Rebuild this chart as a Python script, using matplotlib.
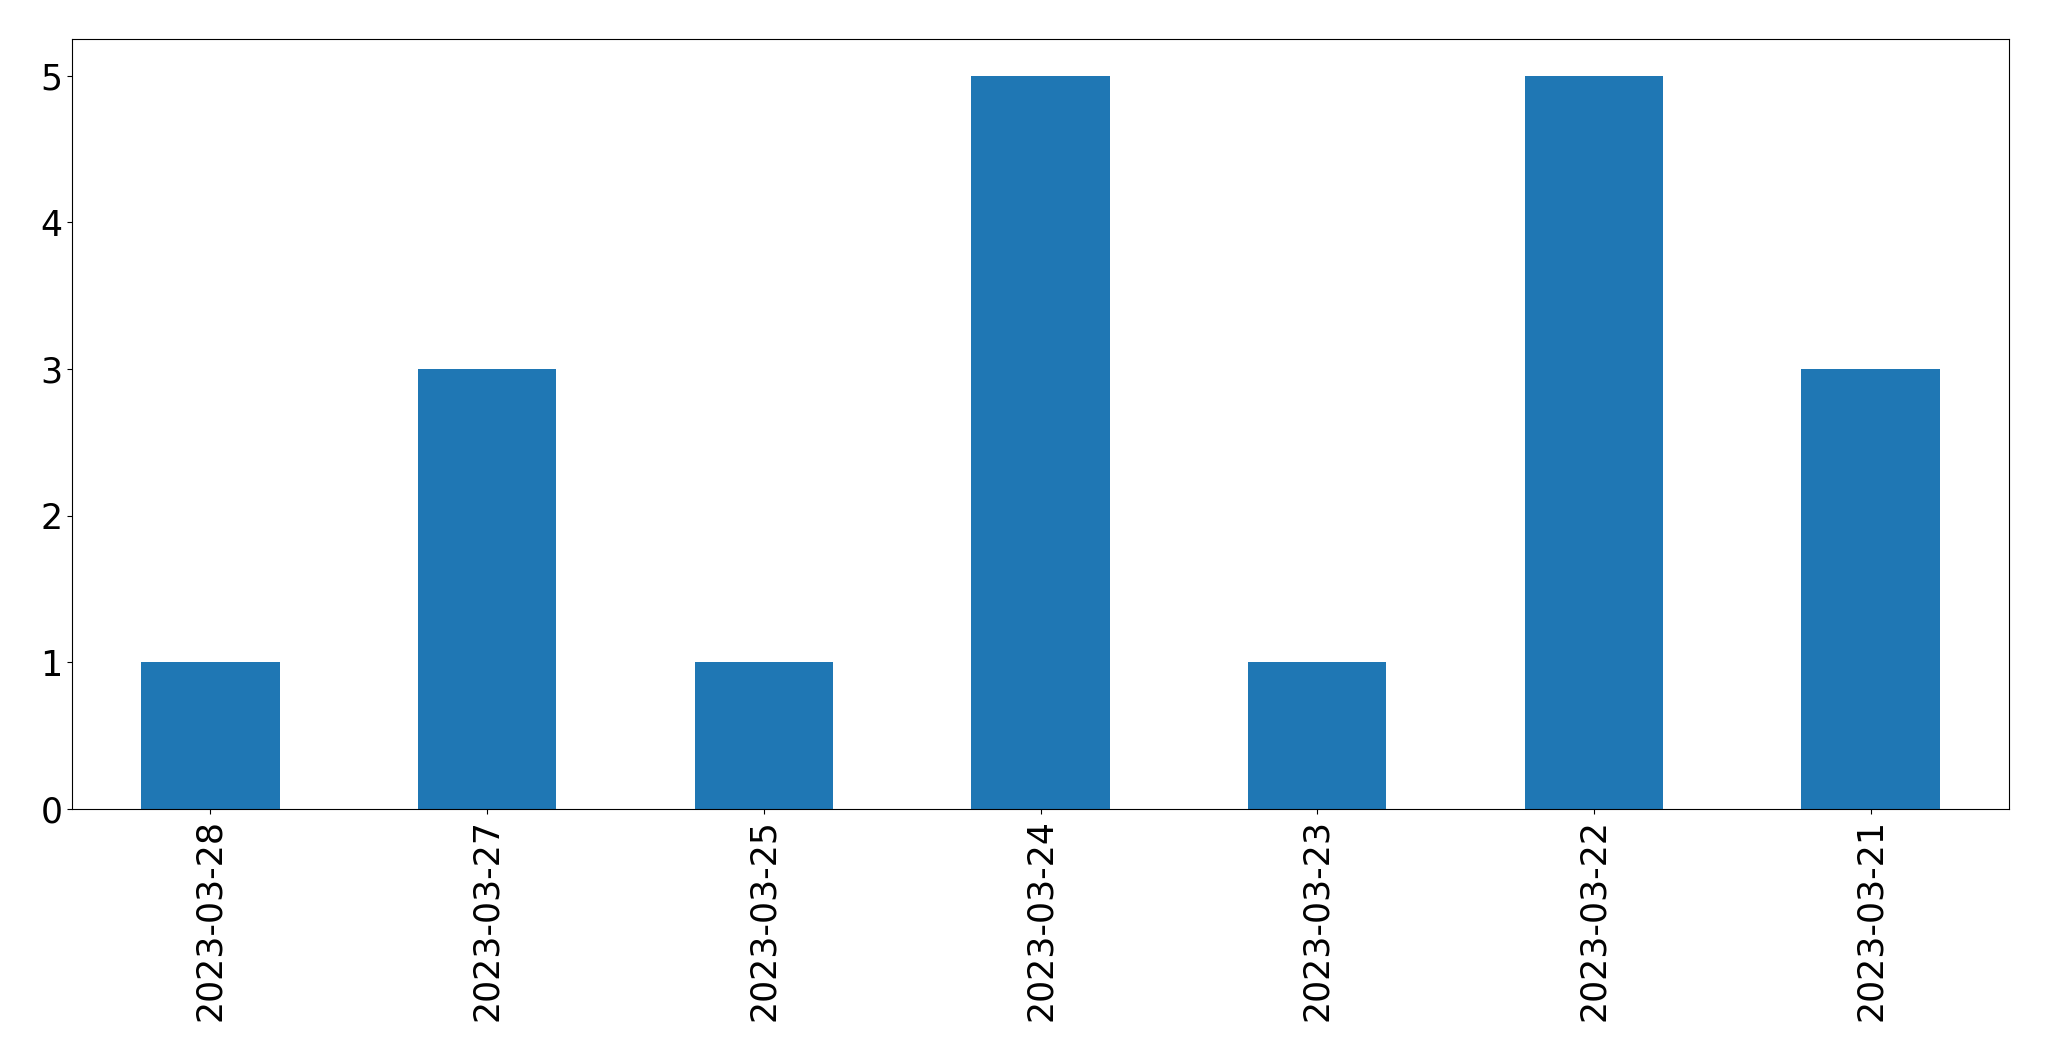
import matplotlib
matplotlib.use("Agg")
import matplotlib.pyplot as plt

dates = ["2023-03-28", "2023-03-27", "2023-03-25", "2023-03-24",
         "2023-03-23", "2023-03-22", "2023-03-21"]
counts = [1, 3, 1, 5, 1, 5, 3]

fig = plt.figure(figsize=(20.49, 10.61), dpi=100)
ax = fig.add_axes([72/2049, 1-809/1061, (2009-72)/2049, (809-39)/1061])
x = list(range(len(dates)))
ax.bar(x, counts, width=0.5, color="#1f77b4")
ax.set_xlim(-0.5, len(dates)-0.5)
ax.set_ylim(0, max(counts)*1.05)
ax.set_xticks(x)
ax.set_xticklabels(dates, rotation=90)
ax.tick_params(labelsize=25)
fig.savefig("out.png", dpi=100)
